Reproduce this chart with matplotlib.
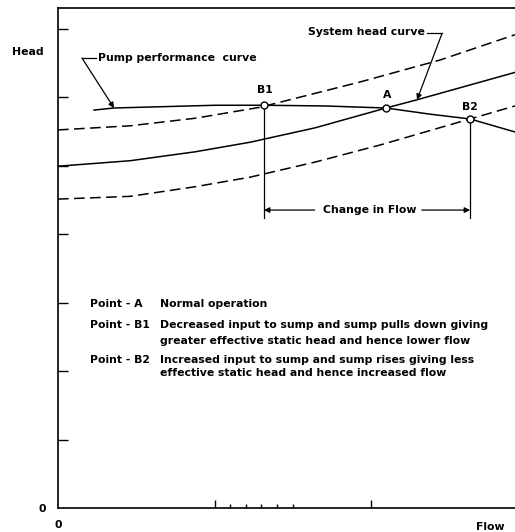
import matplotlib
matplotlib.use('Agg')
import matplotlib.pyplot as plt

plt.rcParams['font.family'] = ['DejaVu Sans']
FS = 7.8

# ---- data ----
sys_flow = [0.0, 0.460, 0.875, 1.227, 1.642, 2.096, 2.294, 2.920]
sys_head = [4.99, 5.07, 5.20, 5.34, 5.55, 5.84, 5.96, 6.36]

high_flow = [0.0, 0.460, 0.875, 1.29, 1.93, 2.44, 2.92]
high_head = [5.52, 5.58, 5.69, 5.85, 6.22, 6.54, 6.91]

low_flow = [0.0, 0.460, 0.875, 1.227, 1.642, 2.058, 2.633, 2.92]
low_head = [4.51, 4.55, 4.69, 4.83, 5.05, 5.30, 5.68, 5.87]

pump_flow = [0.230, 0.358, 1.003, 1.316, 1.70, 2.096, 2.377, 2.633, 2.920]
pump_head = [5.81, 5.84, 5.88, 5.88, 5.87, 5.84, 5.75, 5.68, 5.49]

op_names = ['B1', 'A', 'B2']
op_flow = [1.316, 2.096, 2.633]
op_head = [5.88, 5.84, 5.68]

y_ticks = [1, 2, 3, 4, 5, 6, 7]
x_major = [1, 2]
x_minor = [1.1, 1.2, 1.3, 1.4, 1.5]

legend_keys = ['Point - A', 'Point - B1', '', 'Point - B2', '']
legend_texts = ['Normal operation',
                'Decreased input to sump and sump pulls down giving',
                'greater effective static head and hence lower flow',
                'Increased input to sump and sump rises giving less',
                'effective static head and hence increased flow']
legend_y = [2.98, 2.67, 2.44, 2.16, 1.97]

# ---- figure ----
fig = plt.figure(figsize=(5.15, 5.32), dpi=100)
ax = fig.add_axes([58/515, 24/532, 457/515, 500/532])
ax.set_xlim(0, 2.92)
ax.set_ylim(0, 7.30)

lw = 1.1
dash = (0, (7, 3.5))
ax.plot(sys_flow, sys_head, color='black', lw=lw)
ax.plot(high_flow, high_head, color='black', lw=lw, linestyle=dash)
ax.plot(low_flow, low_head, color='black', lw=lw, linestyle=dash)
ax.plot(pump_flow, pump_head, color='black', lw=lw)
ax.plot(op_flow, op_head, 'o', ms=5, mfc='white', mec='black', mew=1.0, zorder=5)

# operating point labels
lbl_off = {'B1': (0.006, 0.22), 'A': (0.004, 0.19), 'B2': (0.0, 0.17)}
for n, fx, hy in zip(op_names, op_flow, op_head):
    dx, dy = lbl_off[n]
    ax.text(fx + dx, hy + dy, n, ha='center', va='center', fontsize=FS, weight='bold')

# vertical drop lines and change-in-flow arrows
y_bot = 4.23
y_arr = 4.35
for i in (0, 2):
    ax.plot([op_flow[i], op_flow[i]], [op_head[i], y_bot], color='black', lw=0.9)
arrow_kw = dict(arrowstyle='-|>', color='black', lw=0.9, mutation_scale=8, shrinkA=0, shrinkB=0)
ax.annotate('', xy=(op_flow[0], y_arr), xytext=(1.64, y_arr), arrowprops=arrow_kw)
ax.annotate('', xy=(op_flow[2], y_arr), xytext=(2.325, y_arr), arrowprops=arrow_kw)
ax.text(1.994, y_arr, 'Change in Flow', ha='center', va='center', fontsize=FS, weight='bold')

# pump performance leader
ax.plot([0.153, 0.245], [6.57, 6.57], color='black', lw=0.9)
ax.annotate('', xy=(0.358, 5.84), xytext=(0.153, 6.57), arrowprops=arrow_kw)
ax.text(0.256, 6.57, 'Pump performance  curve', ha='left', va='center', fontsize=FS, weight='bold')

# system head leader
ax.text(2.345, 6.95, 'System head curve', ha='right', va='center', fontsize=FS, weight='bold')
ax.plot([2.36, 2.454], [6.93, 6.93], color='black', lw=0.9)
ax.annotate('', xy=(2.294, 5.96), xytext=(2.454, 6.93), arrowprops=arrow_kw)

# legend block
for k, t, y in zip(legend_keys, legend_texts, legend_y):
    if k:
        ax.text(0.204, y, k, ha='left', va='center', fontsize=FS, weight='bold')
    ax.text(0.652, y, t, ha='left', va='center', fontsize=FS, weight='bold')

# axes styling
for s in ('left', 'top', 'bottom'):
    ax.spines[s].set_linewidth(1.2)
ax.spines['right'].set_visible(False)
ax.set_yticks(y_ticks)
ax.set_xticks(x_major)
ax.set_xticks(x_minor, minor=True)
ax.tick_params(axis='y', which='major', direction='in', length=7, width=1.0,
               labelleft=False)
ax.tick_params(axis='x', which='major', direction='in', length=6, width=1.0,
               labelbottom=False)
ax.tick_params(axis='x', which='minor', direction='in', length=3, width=1.0)
ax.tick_params(axis='y', which='minor', left=False)

fig.text(28/515, 1 - 52/532, 'Head', ha='center', va='center', fontsize=FS, weight='bold')
fig.text(42/515, 1 - 509/532, '0', ha='center', va='center', fontsize=FS, weight='bold')
fig.text(58/515, 1 - 525/532, '0', ha='center', va='center', fontsize=FS, weight='bold')
fig.text(490/515, 1 - 527/532, 'Flow', ha='center', va='center', fontsize=FS, weight='bold')

fig.savefig('out.png', dpi=100)
